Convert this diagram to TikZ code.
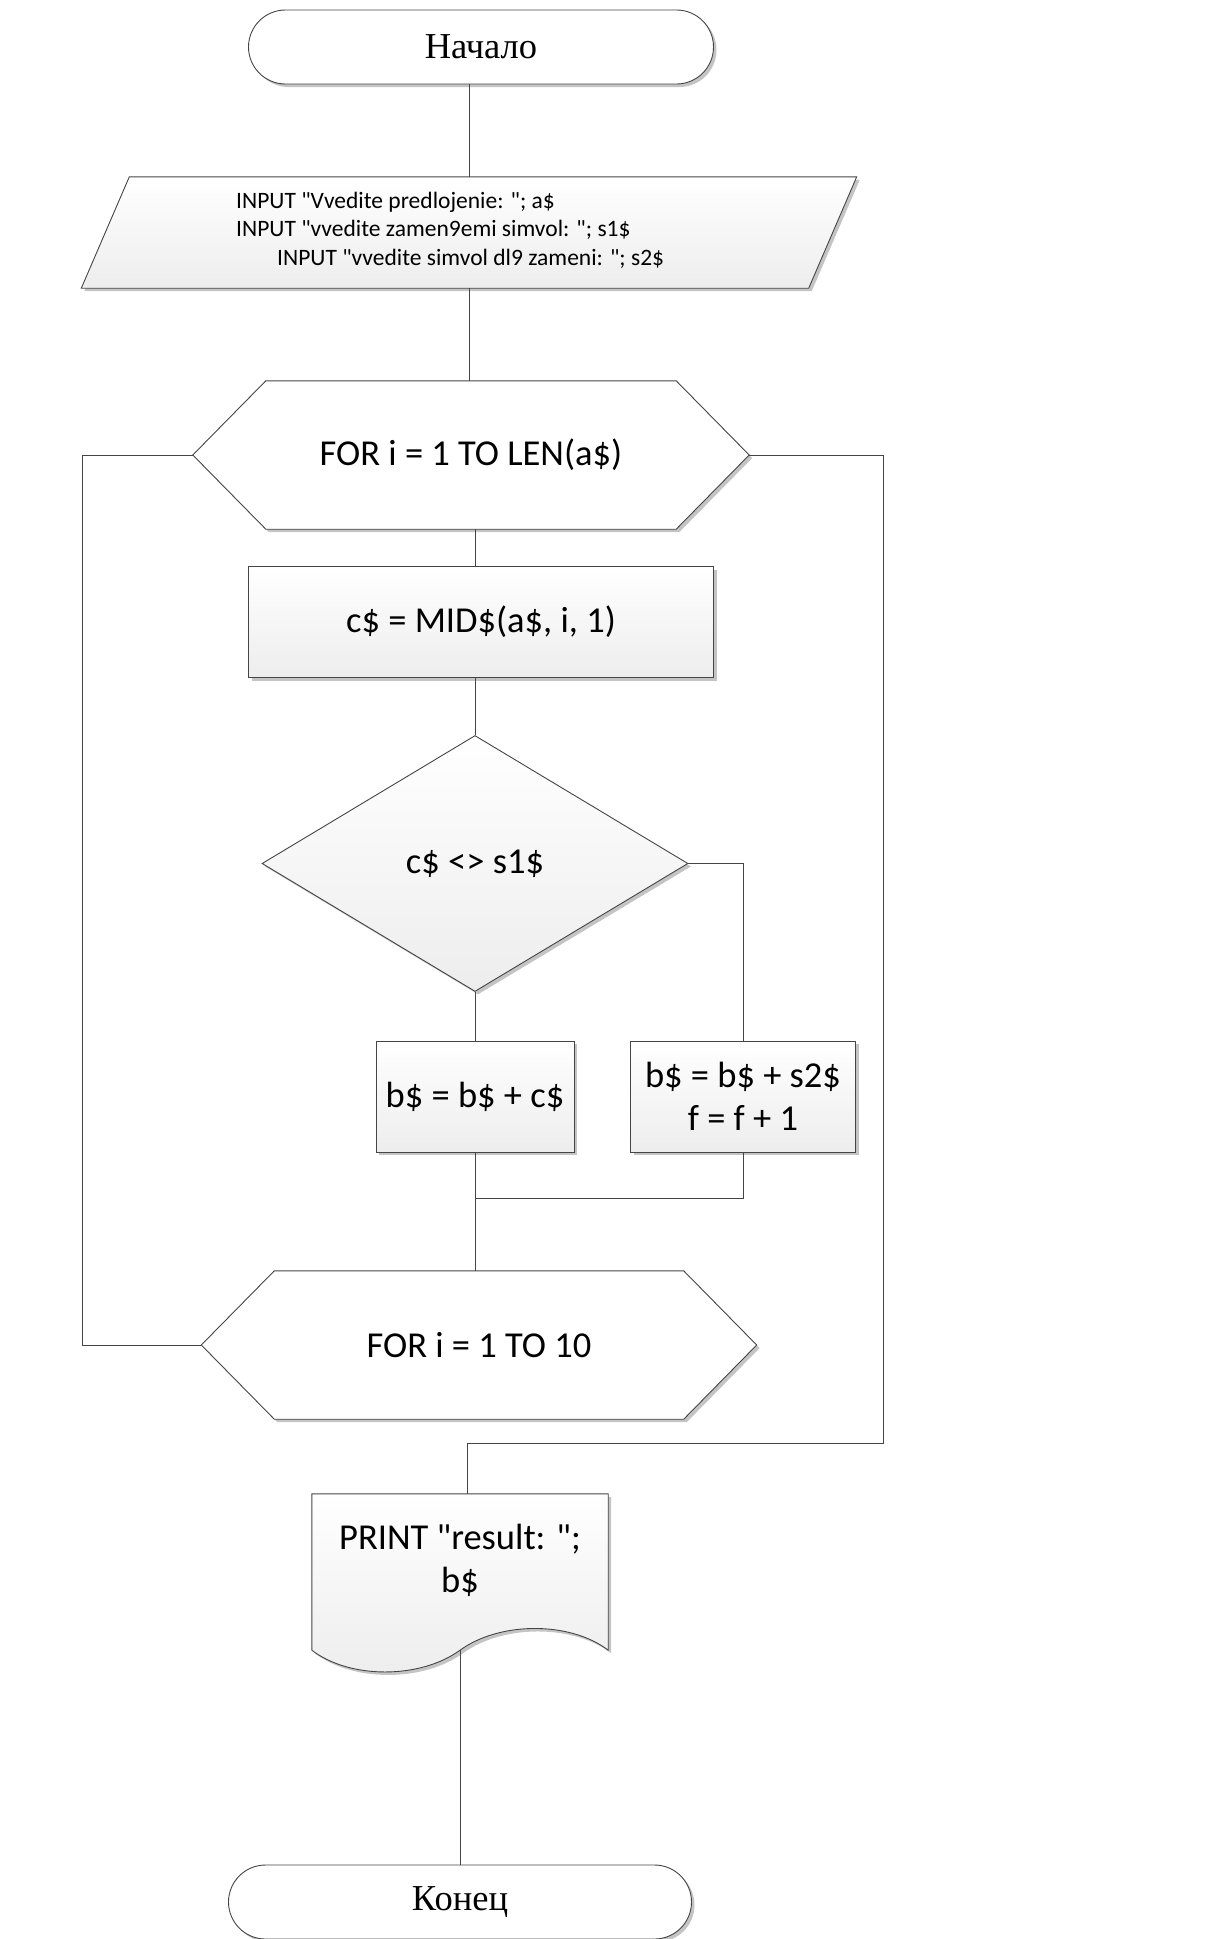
\documentclass[tikz,border=0pt]{standalone}
\usepackage{fontspec}
\setmainfont{Carlito}[Ligatures=TeXOff]
\newfontfamily\serifcyr{Liberation Serif}
\usepackage{tikz}
\usetikzlibrary{shapes.geometric, shadows, backgrounds, calc}
\definecolor{edgegray}{HTML}{454545}
\definecolor{boxgray}{HTML}{EDEDED}
\definecolor{shadowgray}{HTML}{C4C4C4}
\newcommand{\boxfont}{\fontsize{36.5}{43}\selectfont}
\newcommand{\infont}{\fontsize{23.5}{28.5}\selectfont}
\newcommand{\termfont}{\serifcyr\fontsize{36.5}{43}\selectfont}

\begin{document}
\begin{tikzpicture}[x=1pt, y=-1pt,
  outl/.style={draw=edgegray, line width=0.9pt},
  shdw/.style={drop shadow={shadow xshift=3pt, shadow yshift=-3pt, fill=shadowgray, opacity=1}},
  term/.style={outl, shdw, fill=white, rectangle, rounded corners=37pt, minimum width=465pt, minimum height=74pt, inner sep=0pt, font=\termfont},
  proc/.style={outl, shdw, top color=white, bottom color=boxgray, rectangle, minimum height=111pt, inner sep=0pt, font=\boxfont, align=center},
  decis/.style={outl, shdw, top color=white, bottom color=boxgray, diamond, aspect=1.66, minimum width=426pt, minimum height=256pt, inner sep=0pt, font=\boxfont},
  slot/.style={rectangle, inner sep=0pt, font=\boxfont, align=center},
  hexa/.style={outl, shdw, fill=white},
  para/.style={outl, shdw, top color=white, bottom color=boxgray}]
\useasboundingbox (0,0) rectangle (1214,1939);

% blocks
\node[term] (start) at (481,47) {Начало};
\node[slot, minimum width=775pt, minimum height=111pt] (inp) at (469,232.5) {};
\node[slot, font=\infont, align=left, anchor=west] (intext) at (236,230) {INPUT "Vvedite predlojenie: "; a\$\\
INPUT "vvedite zamen9emi simvol: "; s1\$\\
\hspace*{41pt}INPUT "vvedite simvol dl9 zameni: "; s2\$};
\node[slot, minimum width=556pt, minimum height=148pt] (for1) at (471,455) {FOR i = 1 TO LEN(a\$)};
\node[proc, minimum width=465pt] (mid) at (481,622) {c\$ = MID\$(a\$, i, 1)};
\node[decis] (cmp) at (475,863.5) {c\$ <> s1\$};
\node[proc, minimum width=198pt] (addc) at (475,1096.5) {b\$ = b\$ + c\$};
\node[proc, minimum width=225pt] (adds) at (743,1096.5) {b\$ = b\$ + s2\$\\f = f + 1};
\node[slot, minimum width=555pt, minimum height=148pt] (for2) at (479,1345) {FOR i = 1 TO 10};
\node[slot, minimum width=296pt, minimum height=156pt] (prn) at (460,1572) {};
\node[slot] (prntext) at (460,1560) {PRINT "result: ";\\b\$};
\node[term, minimum width=463pt] (stop) at (460,1902) {Конец};

% loop corners
\coordinate (lp) at (82,1345);
\coordinate (rp) at (883,1443);
\coordinate (join) at (475,1198);

% connectors
\draw[outl] (start.south -| inp.north) -- (inp.north);
\draw[outl] (inp.south) -- (inp.south |- for1.north);
\draw[outl] (for1.south -| cmp.north) -- (mid.north -| cmp.north);
\draw[outl] (mid.south -| cmp.north) -- (cmp.north);
\draw[outl] (cmp.south) -- (addc.north);
\draw[outl] (cmp.east) -| (adds.north);
\draw[outl] (adds.south) |- (join);
\draw[outl] (addc.south) -- (addc.south |- for2.north);
\draw[outl] (for1.west) -| (lp) -- (for2.west);
\draw[outl] (for1.east) -| (rp) -| ([xshift=7pt]prn.north);
\draw[outl] (prn.south) -- (stop.north);

% outlines behind the texts
\begin{scope}[on background layer]
\draw[para] (inp.south west) -- ([xshift=48pt]inp.north west) -- (inp.north east) -- ([xshift=-48pt]inp.south east) -- cycle;
\foreach \h in {for1,for2}
  \draw[hexa] (\h.west) -- ([xshift=73pt]\h.north west) -- ([xshift=-73pt]\h.north east) -- (\h.east) -- ([xshift=-73pt]\h.south east) -- ([xshift=73pt]\h.south west) -- cycle;
\draw[para] (prn.north west) -- (prn.north east) -- (prn.south east) .. controls +(-38,-29) and +(40,-29) .. (prn.south) .. controls +(-40,29) and +(38,29) .. (prn.south west) -- cycle;
\end{scope}
\end{tikzpicture}
\end{document}
